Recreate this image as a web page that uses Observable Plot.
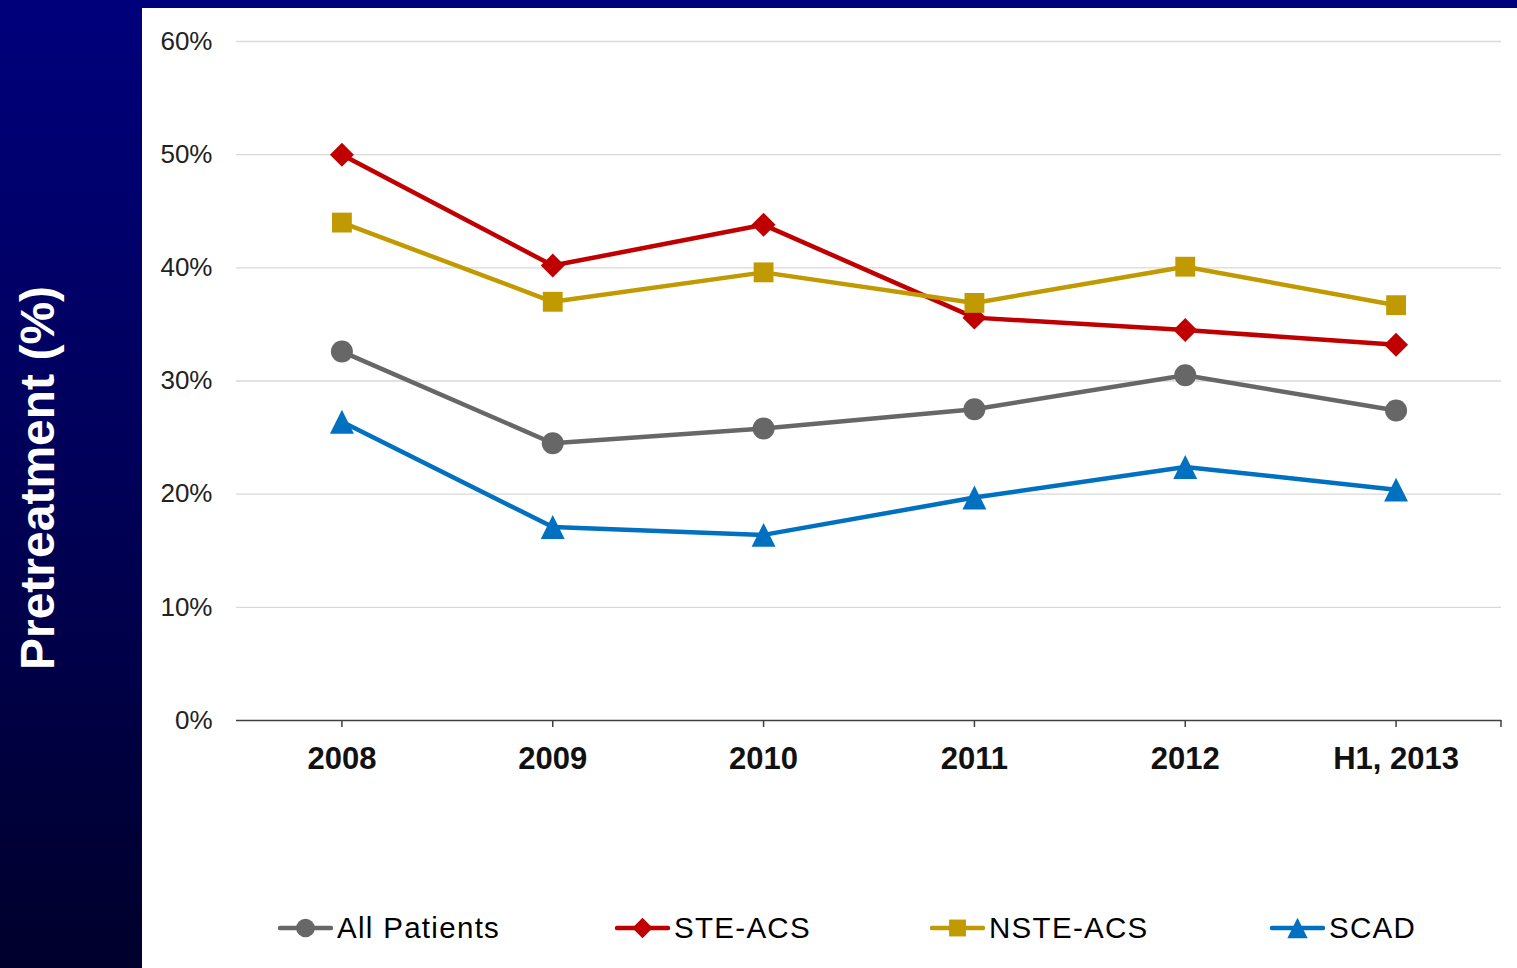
<!DOCTYPE html>
<html>
<head>
<meta charset="utf-8">
<script src="https://cdn.jsdelivr.net/npm/d3@7"></script>
<script src="https://cdn.jsdelivr.net/npm/@observablehq/plot@0.6"></script>
<style>
  html, body { margin: 0; padding: 0; }
  body {
    width: 1517px; height: 968px; overflow: hidden; position: relative;
    background: linear-gradient(to bottom, #00007c 0%, #000058 50%, #00002c 100%);
    font-family: "Liberation Sans", Arial, Helvetica, sans-serif;
  }
  #ytitle {
    position: absolute; left: 37px; top: 478px;
    transform: translate(-50%, -50%) rotate(-90deg);
    color: #fff; font-weight: bold; font-size: 48px; white-space: nowrap;
  }
  #panel {
    position: absolute; left: 142px; top: 8px; width: 1375px; height: 960px;
    background: #fff;
  }
  #chart { position: absolute; left: 0; top: 0; }
  #legend { position: absolute; left: 0; top: 900px; height: 40px; width: 1375px; }
  .item { position: absolute; top: 0; height: 40px; display: flex; align-items: center; gap: 4px; }
  .item span { font-size: 29.5px; letter-spacing: 1.3px; color: #000; white-space: nowrap; }
</style>
</head>
<body>
<div id="ytitle">Pretreatment (%)</div>
<div id="panel">
  <div id="chart"></div>
  <div id="legend"></div>
</div>
<script>
// Share of patients pretreated, by year and patient group (%)
const years = ["2008", "2009", "2010", "2011", "2012", "H1, 2013"];
const allPatients = [32.6, 24.5, 25.8, 27.5, 30.5, 27.4];
const steAcs = [50.0, 40.2, 43.8, 35.6, 34.5, 33.2];
const nsteAcs = [44.0, 37.0, 39.6, 36.9, 40.1, 36.7];
const scad = [26.4, 17.1, 16.4, 19.7, 22.4, 20.4];
const yTicks = [0, 10, 20, 30, 40, 50, 60];

// Isosceles triangle marker, as wide as it is tall, centred on its box
const triangleSym = {
  draw(ctx, size) {
    const s = Math.sqrt(size) * 1.35, h = s / 2;
    ctx.moveTo(0, -h); ctx.lineTo(h, h); ctx.lineTo(-h, h); ctx.closePath();
  }
};

const series = [
  {name: "All Patients", values: allPatients, color: "#676767", symbol: "circle", r: 11, legendLeft: 136},
  {name: "STE-ACS", values: steAcs, color: "#c00000", symbol: "diamond2", r: 10.8, legendLeft: 473},
  {name: "NSTE-ACS", values: nsteAcs, color: "#c09a00", symbol: "square", r: 11.2, legendLeft: 788},
  {name: "SCAD", values: scad, color: "#0070c0", symbol: triangleSym, r: 10, legendLeft: 1128}
];

const seriesMarks = series.flatMap(s => {
  const rows = years.map((year, i) => ({year, value: s.values[i]}));
  return [
    Plot.line(rows, {x: "year", y: "value", stroke: s.color, strokeWidth: 4.5, strokeLinejoin: "round"}),
    Plot.dot(rows, {x: "year", y: "value", fill: s.color, symbol: s.symbol, r: s.r, stroke: "none"})
  ];
});

// closing tick at the right end of the category axis
const endTick = (index, scales, values, dims) => {
  const x = dims.width - dims.marginRight;
  const y = scales.y(0);
  const line = document.createElementNS("http://www.w3.org/2000/svg", "line");
  line.setAttribute("x1", x); line.setAttribute("x2", x);
  line.setAttribute("y1", y); line.setAttribute("y2", y + 7);
  line.setAttribute("stroke", "#404040");
  line.setAttribute("stroke-width", 1.5);
  return line;
};

const chart = Plot.plot({
  width: 1375,
  height: 800,
  marginLeft: 94,
  marginRight: 16,
  marginTop: 33,
  marginBottom: 88,
  style: {fontFamily: '"Liberation Sans", Arial, sans-serif', background: "transparent", overflow: "visible"},
  x: {type: "point", domain: years, padding: 0.5, round: false, label: null},
  y: {domain: [0, 60], label: null},
  marks: [
    Plot.gridY(yTicks.filter(d => d > 0), {stroke: "#d9d9d9", strokeOpacity: 1, strokeWidth: 1.3}),
    Plot.axisY(yTicks, {tickSize: 0, tickPadding: 24, tickFormat: d => d + "%", fontSize: 26, fill: "#222", label: null}),
    Plot.axisX({tickSize: 7, tickPadding: 19, fontSize: 31, fontWeight: "bold", fill: "#111", stroke: "#404040", strokeWidth: 1.5, label: null}),
    Plot.ruleY([0], {stroke: "#404040", strokeWidth: 1.5}),
    endTick,
    ...seriesMarks
  ]
});
document.getElementById("chart").appendChild(chart);

// Legend: line swatch with the series marker, then the name
const legend = d3.select("#legend");
series.forEach(s => {
  const item = legend.append("div").attr("class", "item").style("left", s.legendLeft + "px");
  const svg = item.append("svg").attr("width", 55).attr("height", 30);
  svg.append("line").attr("x1", 2).attr("x2", 53).attr("y1", 15).attr("y2", 15)
    .attr("stroke", s.color).attr("stroke-width", 4.5).attr("stroke-linecap", "round");
  const symType = typeof s.symbol === "string"
    ? {circle: d3.symbolCircle, diamond2: d3.symbolDiamond2, square: d3.symbolSquare}[s.symbol]
    : s.symbol;
  const size = Math.PI * (s.r * 0.85) ** 2;
  svg.append("path").attr("transform", "translate(27.5,15)")
    .attr("d", d3.symbol(symType, size)()).attr("fill", s.color);
  item.append("span").text(s.name);
});
</script>
</body>
</html>
